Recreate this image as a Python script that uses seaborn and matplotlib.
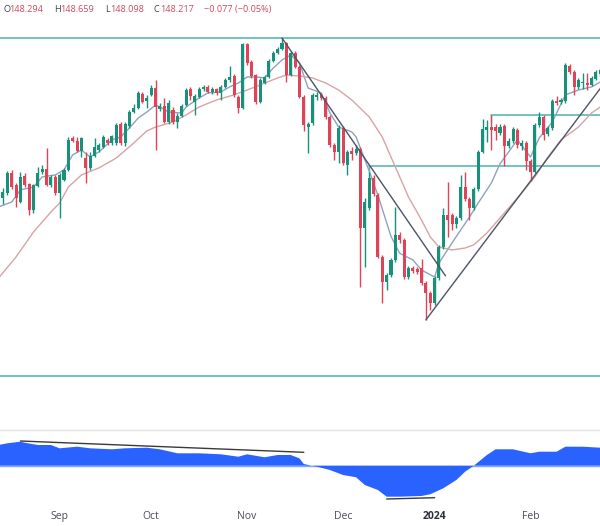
import numpy as np
import pandas as pd
import matplotlib
matplotlib.use("Agg")
import matplotlib.pyplot as plt
import seaborn as sns

# ---------------- data ----------------
dates = pd.bdate_range("2023-08-14", "2024-02-23")
dates = dates[dates != pd.Timestamp("2024-01-01")]

opens = [144.92, 145.29, 145.50, 146.32, 145.83, 145.12, 146.20, 145.87, 144.79, 145.78,
         146.36, 146.49, 145.83, 146.16, 145.50, 146.03, 146.45, 147.77, 147.64, 147.23,
         146.94, 146.53, 147.02, 147.27, 147.40, 147.69, 147.56, 147.56, 148.35, 147.56,
         148.26, 148.84, 149.01, 149.59, 149.30, 149.55, 149.83, 148.97, 149.09, 148.43,
         148.93, 148.43, 148.68, 149.13, 149.79, 149.26, 149.46, 149.79, 149.88, 149.67,
         149.79, 149.63, 149.88, 150.16, 150.33, 149.46, 149.01, 151.65, 150.91, 150.37,
         149.26, 150.04, 150.29, 150.95, 151.28, 151.45, 151.69, 150.37, 151.28, 150.70,
         149.46, 148.22, 148.39, 149.46, 149.55, 149.42, 148.64, 147.48, 147.19, 148.18,
         146.65, 147.23, 147.15, 147.31, 144.05, 144.88, 146.12, 145.41, 142.85, 141.82,
         142.11, 142.73, 143.76, 143.55, 142.02, 142.40, 142.35, 142.40, 141.78, 141.36,
         140.95, 141.98, 143.26, 144.59, 144.59, 144.21, 144.46, 145.74, 145.25, 144.88,
         145.66, 147.19, 148.10, 148.22, 148.22, 147.97, 148.26, 147.44, 147.64, 148.10,
         147.44, 147.56, 146.82, 146.36, 148.31, 148.64, 147.93, 148.18, 149.30, 149.26,
         149.30, 150.74, 150.50, 149.88, 150.04, 150.04, 149.96, 150.21, 150.41]
highs = [145.62, 145.70, 146.40, 146.45, 145.91, 146.36, 146.32, 145.91, 145.87, 146.57,
         146.65, 147.36, 146.24, 146.24, 146.32, 146.53, 147.81, 147.85, 147.81, 147.81,
         147.19, 147.19, 147.77, 147.56, 147.89, 147.77, 147.89, 148.39, 148.43, 148.43,
         148.93, 149.17, 149.71, 149.67, 149.55, 149.96, 150.16, 149.21, 149.42, 149.34,
         149.05, 148.80, 149.17, 149.83, 149.88, 149.59, 149.88, 149.96, 149.96, 149.88,
         149.83, 149.96, 150.25, 150.74, 150.41, 149.55, 151.69, 151.69, 150.99, 150.41,
         150.25, 150.37, 151.03, 151.36, 151.53, 151.90, 151.73, 151.36, 151.36, 150.78,
         149.55, 148.43, 149.63, 149.67, 149.63, 149.50, 148.72, 147.56, 148.31, 148.26,
         147.27, 147.40, 147.48, 147.40, 145.29, 146.36, 146.24, 145.50, 142.93, 142.19,
         142.81, 144.92, 143.88, 143.64, 142.48, 142.48, 142.44, 142.77, 141.86, 141.45,
         142.07, 143.35, 144.88, 145.95, 144.67, 144.55, 146.24, 146.36, 145.33, 145.74,
         147.27, 148.55, 148.51, 148.72, 148.35, 148.35, 148.35, 147.77, 148.22, 148.18,
         147.69, 147.64, 146.90, 148.39, 148.84, 148.72, 148.26, 149.38, 149.50, 149.42,
         150.87, 150.83, 150.58, 150.25, 150.45, 150.45, 150.33, 150.58, 150.66]
lows = [144.79, 145.04, 145.41, 145.66, 144.92, 145.08, 145.74, 144.59, 144.67, 145.74,
        146.28, 145.78, 145.74, 145.41, 144.46, 145.99, 146.40, 147.60, 147.19, 146.98,
        145.91, 146.45, 146.98, 147.19, 147.36, 147.48, 147.48, 147.48, 147.48, 147.44,
        148.18, 148.80, 148.97, 149.21, 149.01, 149.50, 147.27, 148.88, 148.39, 148.35,
        148.35, 148.18, 148.64, 149.09, 149.34, 148.72, 149.42, 149.71, 149.63, 149.59,
        149.55, 149.34, 149.83, 150.08, 149.46, 148.80, 148.97, 150.78, 150.25, 149.17,
        149.21, 150.00, 150.25, 150.91, 151.24, 151.40, 150.08, 150.33, 150.66, 149.42,
        148.06, 147.15, 148.31, 149.34, 149.34, 148.55, 147.40, 146.86, 146.73, 146.65,
        146.24, 146.86, 147.07, 141.61, 142.44, 144.79, 145.37, 142.81, 140.95, 141.49,
        142.02, 142.64, 143.43, 141.94, 141.94, 142.19, 142.15, 141.69, 140.25, 140.66,
        140.87, 141.90, 143.18, 143.68, 143.97, 144.05, 144.38, 145.16, 144.38, 144.79,
        145.58, 147.15, 147.60, 147.27, 147.69, 147.89, 146.61, 147.36, 147.56, 147.36,
        147.27, 146.45, 145.99, 146.32, 148.22, 147.69, 147.85, 148.10, 149.13, 149.17,
        149.21, 150.41, 149.55, 149.79, 149.79, 149.75, 149.92, 150.16, 150.33]
closes = [145.50, 145.54, 146.32, 145.74, 145.29, 146.16, 145.83, 144.79, 145.83, 146.32,
          146.49, 145.83, 146.16, 145.50, 146.24, 146.45, 147.69, 147.64, 147.23, 147.77,
          146.53, 147.02, 147.40, 147.48, 147.81, 147.56, 147.85, 148.31, 147.56, 148.35,
          148.84, 149.01, 149.63, 149.26, 149.42, 149.83, 149.05, 149.09, 148.43, 149.21,
          148.43, 148.68, 149.09, 149.75, 149.50, 149.50, 149.79, 149.88, 149.67, 149.79,
          149.63, 149.88, 150.16, 150.29, 149.55, 149.01, 151.65, 150.87, 150.33, 149.26,
          150.16, 150.29, 150.95, 151.28, 151.45, 151.69, 150.37, 151.28, 150.70, 149.46,
          148.31, 148.35, 149.55, 149.55, 149.42, 148.64, 147.48, 147.19, 148.18, 146.73,
          147.19, 147.11, 147.31, 144.05, 145.12, 146.12, 145.45, 142.85, 141.82, 142.11,
          142.73, 143.76, 143.55, 142.02, 142.40, 142.27, 142.23, 141.78, 141.36, 140.95,
          141.98, 143.26, 144.59, 144.38, 144.21, 144.46, 145.74, 145.25, 144.88, 145.66,
          147.19, 148.14, 148.22, 148.10, 148.06, 148.22, 147.44, 147.64, 148.14, 147.48,
          147.56, 146.82, 146.36, 148.31, 148.64, 147.89, 148.18, 149.30, 149.21, 149.34,
          150.78, 150.50, 149.88, 150.16, 150.08, 149.96, 150.25, 150.50, 150.58]

# moving averages (bar index, price)
fast_idx = [0, 3, 5, 8, 10, 13, 15, 17, 19, 21, 23, 26, 28, 30, 32, 34, 36, 37, 39, 42,
            43, 46, 48, 51, 53, 55, 57, 59, 61, 63, 65, 67, 69, 71, 74, 76, 78, 81, 82, 85,
            87, 90, 92, 95, 97, 100, 101, 104, 106, 108, 110, 113, 115, 119, 122, 124, 127,
            130, 133, 136, 138]
fast_val = [144.92, 145.12, 145.62, 145.74, 146.16, 146.24, 146.45, 147.07, 147.27, 146.98,
            147.19, 147.69, 147.81, 148.18, 148.59, 148.84, 149.13, 149.05, 148.84, 148.80,
            149.05, 149.42, 149.63, 149.67, 149.88, 150.04, 150.29, 150.29, 150.25, 150.66,
            150.99, 151.20, 150.87, 149.83, 149.63, 148.80, 148.22, 148.02, 147.81, 146.40,
            145.40, 143.70, 143.00, 142.73, 142.31, 142.02, 142.60, 143.43, 143.97, 144.50,
            145.08, 145.90, 146.70, 147.69, 146.98, 147.77, 148.43, 149.55, 149.75, 149.88,
            150.08]
slow_idx = [0, 4, 8, 12, 14, 16, 19, 23, 27, 31, 34, 36, 40, 43, 46, 50, 54, 57, 60, 64,
            66, 69, 72, 75, 78, 81, 85, 88, 90, 92, 94, 97, 99, 101, 104, 107, 109, 112,
            115, 120, 123, 126, 129, 133, 136, 138]
slow_val = [141.98, 142.85, 143.88, 144.71, 145.08, 145.74, 146.24, 146.53, 146.94, 147.56,
            148.06, 148.22, 148.43, 148.72, 149.05, 149.34, 149.55, 149.75, 149.96, 150.25,
            150.37, 150.33, 150.25, 150.04, 149.75, 149.34, 148.64, 147.81, 146.98, 146.16,
            145.33, 144.38, 143.68, 143.26, 143.14, 143.22, 143.35, 143.84, 144.46, 145.50,
            146.16, 146.98, 147.69, 148.22, 148.80, 149.05]

# oscillator (bar index, value)
osc_idx = [0, 2, 5, 6, 9, 12, 14, 18, 21, 26, 29, 34, 37, 41, 46, 51, 55, 57, 61, 64, 67,
           69, 70, 73, 76, 79, 82, 84, 87, 89, 92, 97, 99, 102, 105, 107, 109, 112, 114,
           118, 122, 124, 128, 130, 134, 138]
osc_val = [2.07, 2.24, 2.40, 2.30, 2.07, 2.07, 1.74, 1.90, 1.74, 1.64, 1.74, 1.80, 1.64,
           1.24, 1.24, 1.14, 0.90, 1.14, 0.84, 1.07, 1.07, 0.74, 0.17, -0.10, -0.43, -0.93,
           -1.16, -1.93, -2.43, -3.10, -3.10, -3.03, -2.86, -2.26, -1.43, -0.60, 0.0, 1.07,
           1.64, 1.64, 1.24, 1.40, 1.40, 1.90, 1.90, 1.80]

# drawings
hlines_full = [151.90, 137.93]
hray_start = [85, 113]
hray_val = [146.61, 148.72]
down_idx, down_val = [65, 102.5], [151.90, 142.07]
up_idx, up_val = [98, 140], [140.25, 150.29]
osc_line1_idx, osc_line1_val = [5, 70], [2.47, 1.34]
osc_line2_idx, osc_line2_val = [89, 100], [-3.33, -3.20]

header = [("O", "148.294"), ("H", "148.659"), ("L", "148.098"), ("C", "148.217")]
header_change = "\u22120.077 (\u22120.05%)"

# ---------------- style ----------------
sns.set_theme(style="white")
plt.rcParams["font.family"] = ["Open Sans", "DejaVu Sans"]

UP, DOWN = "#17917a", "#e04357"
TEAL = "#5ab9b9"

W, H = 600, 526
fig = plt.figure(figsize=(W / 100, H / 100), dpi=100)
ax = fig.add_axes([0, 97 / H, 1, 429 / H])
axo = fig.add_axes([0, 21 / H, 1, 75 / H])

idx = np.arange(len(closes))
o = np.array(opens); c = np.array(closes); hi = np.array(highs); lo = np.array(lows)
cols = np.where(c >= o, UP, DOWN)

xlim = (0.32, 137.94)

# horizontal lines
for v in hlines_full:
    ax.axhline(v, color=TEAL, lw=1.2, zorder=1)
for s, v in zip(hray_start, hray_val):
    ax.plot([s, xlim[1] + 1], [v, v], color=TEAL, lw=1.2, zorder=1)
    ax.plot([s, s], [v, v - 0.3], color=TEAL, lw=1.0, zorder=1)

# moving averages
sns.lineplot(x=fast_idx, y=fast_val, ax=ax, color="#8ea2c0", lw=1.0, zorder=2)
sns.lineplot(x=slow_idx, y=slow_val, ax=ax, color="#d8a3a6", lw=1.0, zorder=2)

# candles
ax.vlines(idx, lo, hi, colors=cols, lw=1.0, zorder=3)
body = np.maximum(np.abs(c - o), 0.03)
ax.bar(idx, body, bottom=np.minimum(o, c), width=0.7, color=cols, linewidth=0, zorder=4)

# trend lines
ax.plot(down_idx, down_val, color="#4b5563", lw=1.0, zorder=5)
ax.plot(up_idx, up_val, color="#4b5563", lw=1.0, zorder=5)

ax.set_xlim(*xlim)
ax.set_ylim(135.74, 153.47)
ax.set_xticks([]); ax.set_yticks([])
for sp in ax.spines.values():
    sp.set_visible(False)

# oscillator
axo.fill_between(osc_idx, osc_val, 0, color="#2962ff", linewidth=0, zorder=2)
axo.axhline(0, color="#7fa6f7", lw=1.0, zorder=1)
axo.plot(osc_line1_idx, osc_line1_val, color="#3a3a3a", lw=1.0, zorder=3)
axo.plot(osc_line2_idx, osc_line2_val, color="#3a3a3a", lw=1.0, zorder=3)
axo.set_xlim(*xlim)
axo.set_ylim(-3.93, 3.57)
axo.set_yticks([])
for name, sp in axo.spines.items():
    sp.set_visible(name == "top")
axo.spines["top"].set_color("#e3e5ea")
axo.spines["top"].set_linewidth(1.0)

# month ticks from dates
months = pd.Series(dates.to_period("M"))
first = months.ne(months.shift()).to_numpy()
first[0] = False
tick_pos = idx[first]
tick_lab = []
for d in dates[first]:
    tick_lab.append(str(d.year) if d.month == 1 else d.strftime("%b"))
axo.set_xticks(tick_pos)
axo.set_xticklabels(tick_lab)
axo.tick_params(axis="x", length=0, pad=4.5, labelsize=7.5, labelcolor="#4a4d57")
for t in axo.get_xticklabels():
    if t.get_text().isdigit():
        t.set_fontweight("bold")
        t.set_color("#2a2e39")

# header text
ty = 1 - 9.5 / H
xs_letter = [3, 54, 105, 154]
xs_num = [9, 60, 110.5, 160]
for (letter, num), xl, xn in zip(header, xs_letter, xs_num):
    fig.text(xl / W, ty, letter, ha="left", va="center", fontsize=6.6, color="#3d4250")
    fig.text(xn / W, ty, num, ha="left", va="center", fontsize=6.6, color="#cf4b5b")
fig.text(204 / W, ty, header_change, ha="left", va="center", fontsize=6.6, color="#cf4b5b")

fig.savefig("out.png", dpi=100)
